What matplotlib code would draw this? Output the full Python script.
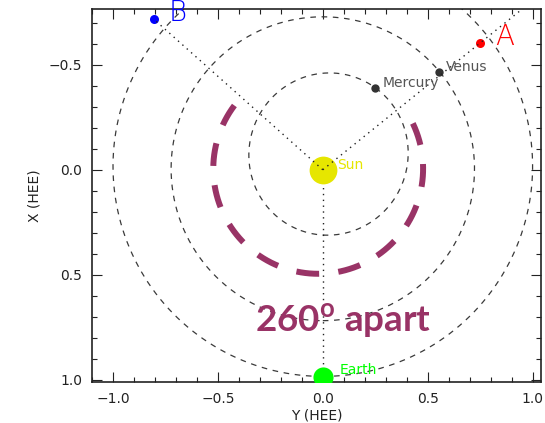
import numpy as np
import matplotlib
matplotlib.use("Agg")
import matplotlib.pyplot as plt
from matplotlib.ticker import MultipleLocator

plt.rcParams["font.family"] = ["DejaVu Sans"]
plt.rcParams["mathtext.fontset"] = "custom"
plt.rcParams["mathtext.rm"] = "Lato"
plt.rcParams["mathtext.bf"] = "Lato:bold"

# Bodies: (Y_HEE, X_HEE) positions in AU
planet_names = ["Mercury", "Venus"]
planet_y = [0.251, 0.554]
planet_x = [-0.388, -0.463]

sun_y, sun_x = 0.0, 0.0
earth_y, earth_x = 0.0, 0.984

craft_names = ["A", "B"]
craft_y = [0.748, -0.805]
craft_x = [-0.602, -0.716]
craft_colors = ["#ff0000", "#0000ff"]

# Orbits: semi-major axis (AU), eccentricity, perihelion angle (deg, from +X toward +Y)
orbit_a = [0.387, 0.723, 1.0]
orbit_e = [0.2056, 0.0068, 0.0167]
orbit_peri = [-20.0, 0.0, 0.0]

# Separation arc through Earth's side (angles in deg from +X toward +Y)
sep_label = r"$\mathbf{260}^{\mathbf{o}}$ apart"
sep_start, sep_end = -127.0, 117.0
sep_radius = 0.5
sep_center = (-0.022, -0.005)

arc_color = "#993366"

fig = plt.figure(figsize=(5.45, 4.23), dpi=100)
ax = fig.add_axes([0.1688, 0.0969, 0.8239, 0.8818])

# orbits (dashed)
nu = np.linspace(0, 2 * np.pi, 600)
for a, e, w in zip(orbit_a, orbit_e, orbit_peri):
    r = a * (1 - e ** 2) / (1 + e * np.cos(nu))
    th = nu + np.radians(w)
    ax.plot(r * np.sin(th), r * np.cos(th), color="#3a3a3a", lw=0.9,
            linestyle=(0, (4.5, 4.5)), zorder=2)

# dotted lines from the Sun
ax.plot([sun_y, earth_y], [sun_x, earth_x], color="#222222", lw=1.0,
        linestyle=(0, (1, 3.2)), zorder=2)
ext = [1.3, 1.0]
for cy, cx, k in zip(craft_y, craft_x, ext):
    ax.plot([sun_y, cy * k], [sun_x, cx * k], color="#222222", lw=1.0,
            linestyle=(0, (1, 3.2)), zorder=4)

# Sun and Earth
ax.plot(sun_y, sun_x, "o", ms=20, color="#e6e600", mec="none", zorder=3)
ax.text(sun_y + 0.07, sun_x - 0.025, "Sun", color="#e6e600", fontsize=10,
        va="center", ha="left", zorder=5)
ax.plot(earth_y, earth_x, "o", ms=14.5, color="#00ff00", mec="none", zorder=3)
ax.text(earth_y + 0.08, earth_x - 0.03, "Earth", color="#00ff00", fontsize=10,
        va="center", ha="left", zorder=5)

# planets
for name, py, px in zip(planet_names, planet_y, planet_x):
    ax.plot(py, px, "o", ms=6, color="#333333", mec="none", zorder=3)
    ax.text(py + 0.035, px - 0.025, name, color="#555555", fontsize=10,
            va="center", ha="left", zorder=5)

# spacecraft
for name, cy, cx, c in zip(craft_names, craft_y, craft_x, craft_colors):
    ax.plot(cy, cx, "o", ms=6.5, color=c, mec="none", zorder=3)
    ax.text(cy + 0.072, cx + 0.01, name, color=c, fontsize=20,
            va="baseline", ha="left", zorder=5, clip_on=False,
            fontweight="light")

# separation arc
th = np.radians(np.linspace(sep_start, sep_end, 400))
ax.plot(sep_center[0] + sep_radius * np.sin(th),
        sep_center[1] + sep_radius * np.cos(th),
        color=arc_color, lw=4.3, linestyle=(0, (3.83, 3.23)),
        solid_capstyle="butt", dash_capstyle="butt", zorder=3)
ax.text(0.095, 0.775, sep_label, color=arc_color, fontsize=26.5,
        fontfamily="Lato", fontweight="bold", ha="center", va="baseline",
        zorder=6)

ax.set_xlim(-1.10, 1.04)
ax.set_ylim(1.01, -0.765)

ax.xaxis.set_major_locator(MultipleLocator(0.5))
ax.xaxis.set_minor_locator(MultipleLocator(0.1))
ax.yaxis.set_major_locator(MultipleLocator(0.5))
ax.yaxis.set_minor_locator(MultipleLocator(0.1))
ax.tick_params(which="both", direction="in", top=True, right=True,
               color="#222222", labelcolor="#222222", labelsize=10)
ax.tick_params(which="major", length=7.2, width=0.8, pad=7)
ax.tick_params(which="minor", length=3.6, width=0.8)
for s in ax.spines.values():
    s.set_linewidth(1.2)
    s.set_color("#222222")

ax.set_xlabel("Y (HEE)", fontsize=10, color="#222222", labelpad=2)
ax.set_ylabel("X (HEE)", fontsize=10, color="#222222", labelpad=5)

fig.savefig("out.png", dpi=100)
